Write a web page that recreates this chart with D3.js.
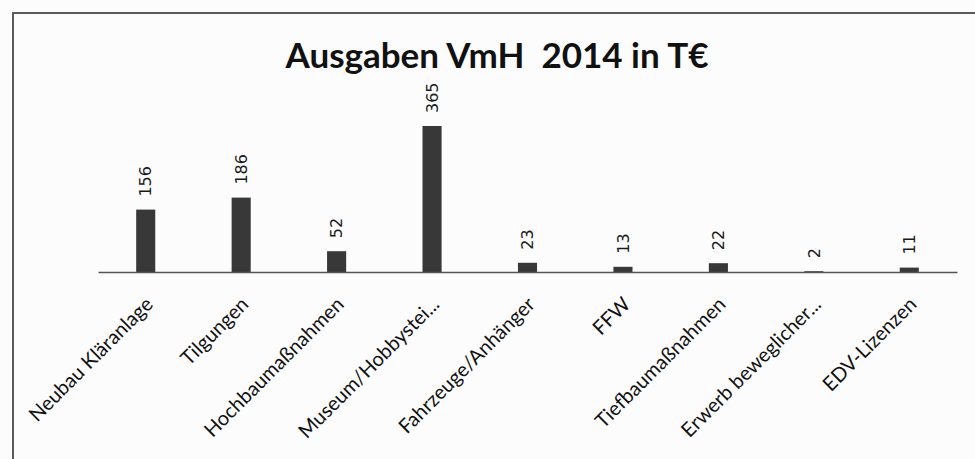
<!DOCTYPE html>
<html>
<head>
<meta charset="utf-8">
<script src="https://cdn.jsdelivr.net/npm/d3@7"></script>
<style>
  html, body { margin: 0; padding: 0; background: #fcfcfc; }
  svg { display: block; }
</style>
</head>
<body>
<div id="chart"></div>
<script>
/* Chart data */
const categories = [
  'Neubau Kläranlage',
  'Tilgungen',
  'Hochbaumaßnahmen',
  'Museum/Hobbystei...',
  'Fahrzeuge/Anhänger',
  'FFW',
  'Tiefbaumaßnahmen',
  'Erwerb beweglicher...',
  'EDV-Lizenzen',
];
const values = [156, 186, 52, 365, 23, 13, 22, 2, 11];
const title = 'Ausgaben VmH\u00a0\u00a02014 in T€';

const width = 975;
const height = 459;

/* Plot frame in px */
const plot = { left: 98, right: 957, top: 126, baseline: 272 };

let svgD3 = d3.select('#chart')
    .append('svg')
    .attr('width', width)
    .attr('height', height)
    .attr('viewBox', `0 0 ${width} ${height}`);

/* Chart area border (top and left edge visible in the scan) */
svgD3.append('path')
    .attr('d', `M13,${height} V13 H${width}`)
    .attr('fill', 'none')
    .attr('stroke', '#5a5a5a')
    .attr('stroke-width', 2);

let x = d3.scaleBand()
    .domain(categories)
    .range([plot.left, plot.right])
    .paddingInner(0.8)
    .paddingOuter(0.4);

let y = d3.scaleLinear()
    .domain([0, d3.max(values)])
    .range([plot.baseline, plot.top]);

let data = categories.map((c, i) => ({ category: c, value: values[i] }));

/* Title */
svgD3.append('text')
    .attr('x', 497)
    .attr('y', 68)
    .attr('text-anchor', 'middle')
    .attr('font-family', 'Lato, sans-serif')
    .attr('font-weight', 'bold')
    .attr('font-size', 35)
    .attr('fill', '#111')
    .text(title);

/* Bars */
svgD3.append('g')
    .attr('class', 'bars')
    .selectAll('rect')
    .data(data)
    .join('rect')
    .attr('x', d => x(d.category))
    .attr('y', d => y(d.value))
    .attr('width', x.bandwidth())
    .attr('height', d => y(0) - y(d.value))
    .attr('fill', '#383838');

/* Category axis */
let axisD3 = svgD3.append('g')
    .attr('transform', `translate(0, ${plot.baseline})`)
    .call(d3.axisBottom(x).tickSize(0).tickPadding(0));

axisD3.select('.domain')
    .attr('stroke', '#555')
    .attr('stroke-width', 1.6);

axisD3.selectAll('.tick text')
    .attr('font-family', 'Lato, sans-serif')
    .attr('font-size', 20)
    .attr('fill', '#111')
    .attr('text-anchor', 'end')
    .attr('dy', '0.75em')
    .attr('transform', 'translate(-2, 23) rotate(-45)');

/* Value labels, rotated */
svgD3.append('g')
    .attr('class', 'value-labels')
    .selectAll('text')
    .data(data)
    .join('text')
    .attr('transform', d => `translate(` +
        `${x(d.category) + x.bandwidth() / 2}, ${y(d.value) - 13}) rotate(-90)`)
    .attr('dy', '0.36em')
    .attr('text-anchor', 'start')
    .attr('font-family', '"DejaVu Sans", sans-serif')
    .attr('font-size', 16)
    .attr('fill', '#1a1a1a')
    .text(d => d.value);
</script>
</body>
</html>
